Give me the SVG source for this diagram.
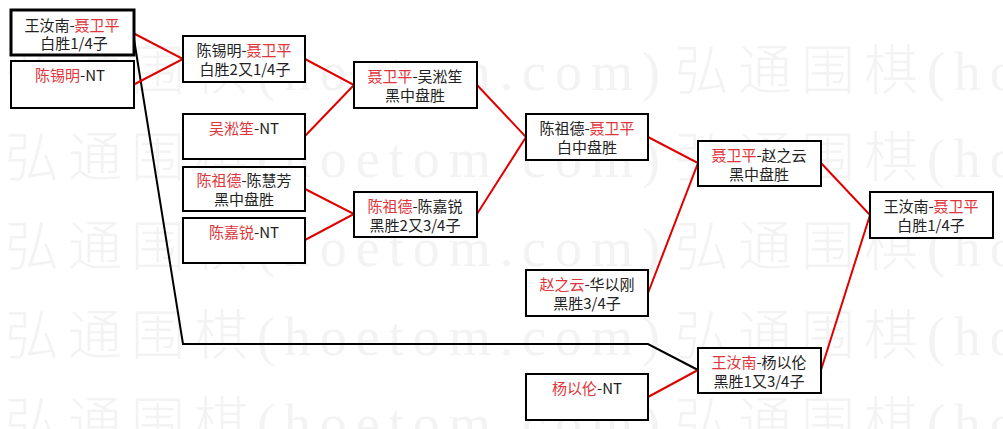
<svg xmlns="http://www.w3.org/2000/svg" width="1003" height="429" viewBox="0 0 1003 429">
<style>
.wm{font-family:"Liberation Serif","Noto Sans CJK SC",serif;font-size:54px;font-weight:300;fill:#f3f3f3}
.box{fill:#ffffff;stroke:#000000;stroke-width:2}
.thick{stroke-width:3}
.t{font-family:"Noto Sans CJK SC","Noto Sans",sans-serif;font-size:15px;fill:#222222;text-anchor:middle}
.r{fill:#e0353a}
.red{stroke:#e00000;stroke-width:2;fill:none}
.blk{stroke:#000000;stroke-width:2;fill:none}
</style>
<rect x="0" y="0" width="1003" height="429" fill="#ffffff"/>
<g id="watermark">
<text class="wm" x="5" y="90" textLength="655" lengthAdjust="spacing">弘通围棋(hoetom.com)</text>
<text class="wm" x="675" y="90" textLength="655" lengthAdjust="spacing">弘通围棋(hoetom.com)</text>
<text class="wm" x="5" y="177" textLength="655" lengthAdjust="spacing">弘通围棋(hoetom.com)</text>
<text class="wm" x="675" y="177" textLength="655" lengthAdjust="spacing">弘通围棋(hoetom.com)</text>
<text class="wm" x="5" y="266" textLength="655" lengthAdjust="spacing">弘通围棋(hoetom.com)</text>
<text class="wm" x="675" y="266" textLength="655" lengthAdjust="spacing">弘通围棋(hoetom.com)</text>
<text class="wm" x="5" y="355" textLength="655" lengthAdjust="spacing">弘通围棋(hoetom.com)</text>
<text class="wm" x="675" y="355" textLength="655" lengthAdjust="spacing">弘通围棋(hoetom.com)</text>
<text class="wm" x="5" y="442" textLength="655" lengthAdjust="spacing">弘通围棋(hoetom.com)</text>
<text class="wm" x="675" y="442" textLength="655" lengthAdjust="spacing">弘通围棋(hoetom.com)</text>
</g>
<g id="connectors">
<polyline class="blk" points="133,33 183,344 648,344 698,370"/>
<polyline class="red" points="133,33 183,59 133,85"/>
<polyline class="red" points="305,59 354,85 305,136"/>
<polyline class="red" points="305,189 354,214 305,240"/>
<polyline class="red" points="477,85 526,137 477,214"/>
<polyline class="red" points="648,137 698,163 648,293"/>
<polyline class="red" points="821,163 870,215 821,370"/>
<line class="red" x1="648" y1="397" x2="698" y2="370"/>
</g>
<g id="n1">
<rect class="box thick" x="11" y="10" width="123" height="45"/>
<text class="t" x="72" y="31">王汝南-<tspan class="r">聂卫平</tspan></text>
<text class="t" x="74" y="49">白胜1/4子</text>
</g>
<g id="n2">
<rect class="box" x="11" y="61" width="123" height="47"/>
<text class="t" x="70" y="81"><tspan class="r">陈锡明</tspan>-NT</text>
</g>
<g id="n3">
<rect class="box" x="183" y="36" width="122" height="46"/>
<text class="t" x="244" y="56">陈锡明-<tspan class="r">聂卫平</tspan></text>
<text class="t" x="245" y="75">白胜2又1/4子</text>
</g>
<g id="n4">
<rect class="box" x="183" y="114" width="122" height="45"/>
<text class="t" x="244" y="134"><tspan class="r">吴淞笙</tspan>-NT</text>
</g>
<g id="n5">
<rect class="box" x="183" y="167" width="122" height="44"/>
<text class="t" x="244" y="186"><tspan class="r">陈祖德</tspan>-陈慧芳</text>
<text class="t" x="244" y="205">黑中盘胜</text>
</g>
<g id="n6">
<rect class="box" x="183" y="218" width="122" height="45"/>
<text class="t" x="244" y="238"><tspan class="r">陈嘉锐</tspan>-NT</text>
</g>
<g id="n7">
<rect class="box" x="354" y="62" width="123" height="46"/>
<text class="t" x="415" y="82"><tspan class="r">聂卫平</tspan>-吴淞笙</text>
<text class="t" x="415" y="101">黑中盘胜</text>
</g>
<g id="n8">
<rect class="box" x="354" y="192" width="123" height="45"/>
<text class="t" x="415" y="212"><tspan class="r">陈祖德</tspan>-陈嘉锐</text>
<text class="t" x="415" y="231">黑胜2又3/4子</text>
</g>
<g id="n9">
<rect class="box" x="526" y="114" width="122" height="46"/>
<text class="t" x="587" y="134">陈祖德-<tspan class="r">聂卫平</tspan></text>
<text class="t" x="587" y="153">白中盘胜</text>
</g>
<g id="n10">
<rect class="box" x="698" y="141" width="123" height="45"/>
<text class="t" x="759" y="161"><tspan class="r">聂卫平</tspan>-赵之云</text>
<text class="t" x="759" y="180">黑中盘胜</text>
</g>
<g id="n11">
<rect class="box" x="526" y="270" width="122" height="46"/>
<text class="t" x="587" y="290"><tspan class="r">赵之云</tspan>-华以刚</text>
<text class="t" x="587" y="309">黑胜3/4子</text>
</g>
<g id="n12">
<rect class="box" x="698" y="348" width="123" height="45"/>
<text class="t" x="759" y="368"><tspan class="r">王汝南</tspan>-杨以伦</text>
<text class="t" x="759" y="387">黑胜1又3/4子</text>
</g>
<g id="n13">
<rect class="box" x="526" y="374" width="122" height="46"/>
<text class="t" x="587" y="394"><tspan class="r">杨以伦</tspan>-NT</text>
</g>
<g id="n14">
<rect class="box" x="870" y="192" width="123" height="46"/>
<text class="t" x="931" y="212">王汝南-<tspan class="r">聂卫平</tspan></text>
<text class="t" x="931" y="231">白胜1/4子</text>
</g>
</svg>
